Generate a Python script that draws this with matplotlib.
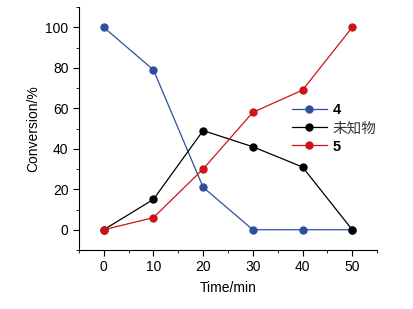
import matplotlib
matplotlib.use("Agg")
import matplotlib.pyplot as plt
from matplotlib.ticker import MultipleLocator

plt.rcParams['font.family'] = ['Liberation Sans', 'Noto Sans CJK SC']

time = [0, 10, 20, 30, 40, 50]
conv_4 = [100, 79, 21, 0, 0, 0]
conv_unknown = [0, 15, 49, 41, 31, 0]
conv_5 = [0, 6, 30, 58, 69, 100]

fig = plt.figure(figsize=(4.13, 3.09), dpi=100)
ax = fig.add_axes([0.191, 0.191, 0.722, 0.786])

ax.plot(time, conv_4, '-o', color='#2f4f9c', lw=0.9, ms=5, label='4')
ax.plot(time, conv_unknown, '-o', color='black', lw=0.9, ms=5, label='未知物')
ax.plot(time, conv_5, '-o', color='#cc1418', lw=0.9, ms=5, label='5')

ax.set_xlim(-5, 55)
ax.set_ylim(-10, 110)
ax.xaxis.set_major_locator(MultipleLocator(10))
ax.xaxis.set_minor_locator(MultipleLocator(5))
ax.yaxis.set_minor_locator(MultipleLocator(10))
ax.set_yticks([0, 20, 40, 60, 80, 100])
ax.spines['top'].set_visible(False)
ax.spines['right'].set_visible(False)
ax.tick_params(which='major', direction='out', length=4, labelsize=10)
ax.tick_params(which='minor', direction='out', length=2.5)

ax.set_xlabel('Time/min', fontsize=10, labelpad=5)
ax.set_ylabel('Conversion/%', fontsize=10)

leg = ax.legend(loc='upper left', bbox_to_anchor=(0.67, 0.66), frameon=False,
                fontsize=10.5, handlelength=2.4, labelspacing=0.3, handletextpad=0.4)
for t in leg.get_texts():
    if t.get_text() in ('4', '5'):
        t.set_fontweight('bold')
    else:
        t.set_family(['Noto Sans CJK SC'])
        t.set_color('#333333')

fig.savefig('out.png', dpi=100)
